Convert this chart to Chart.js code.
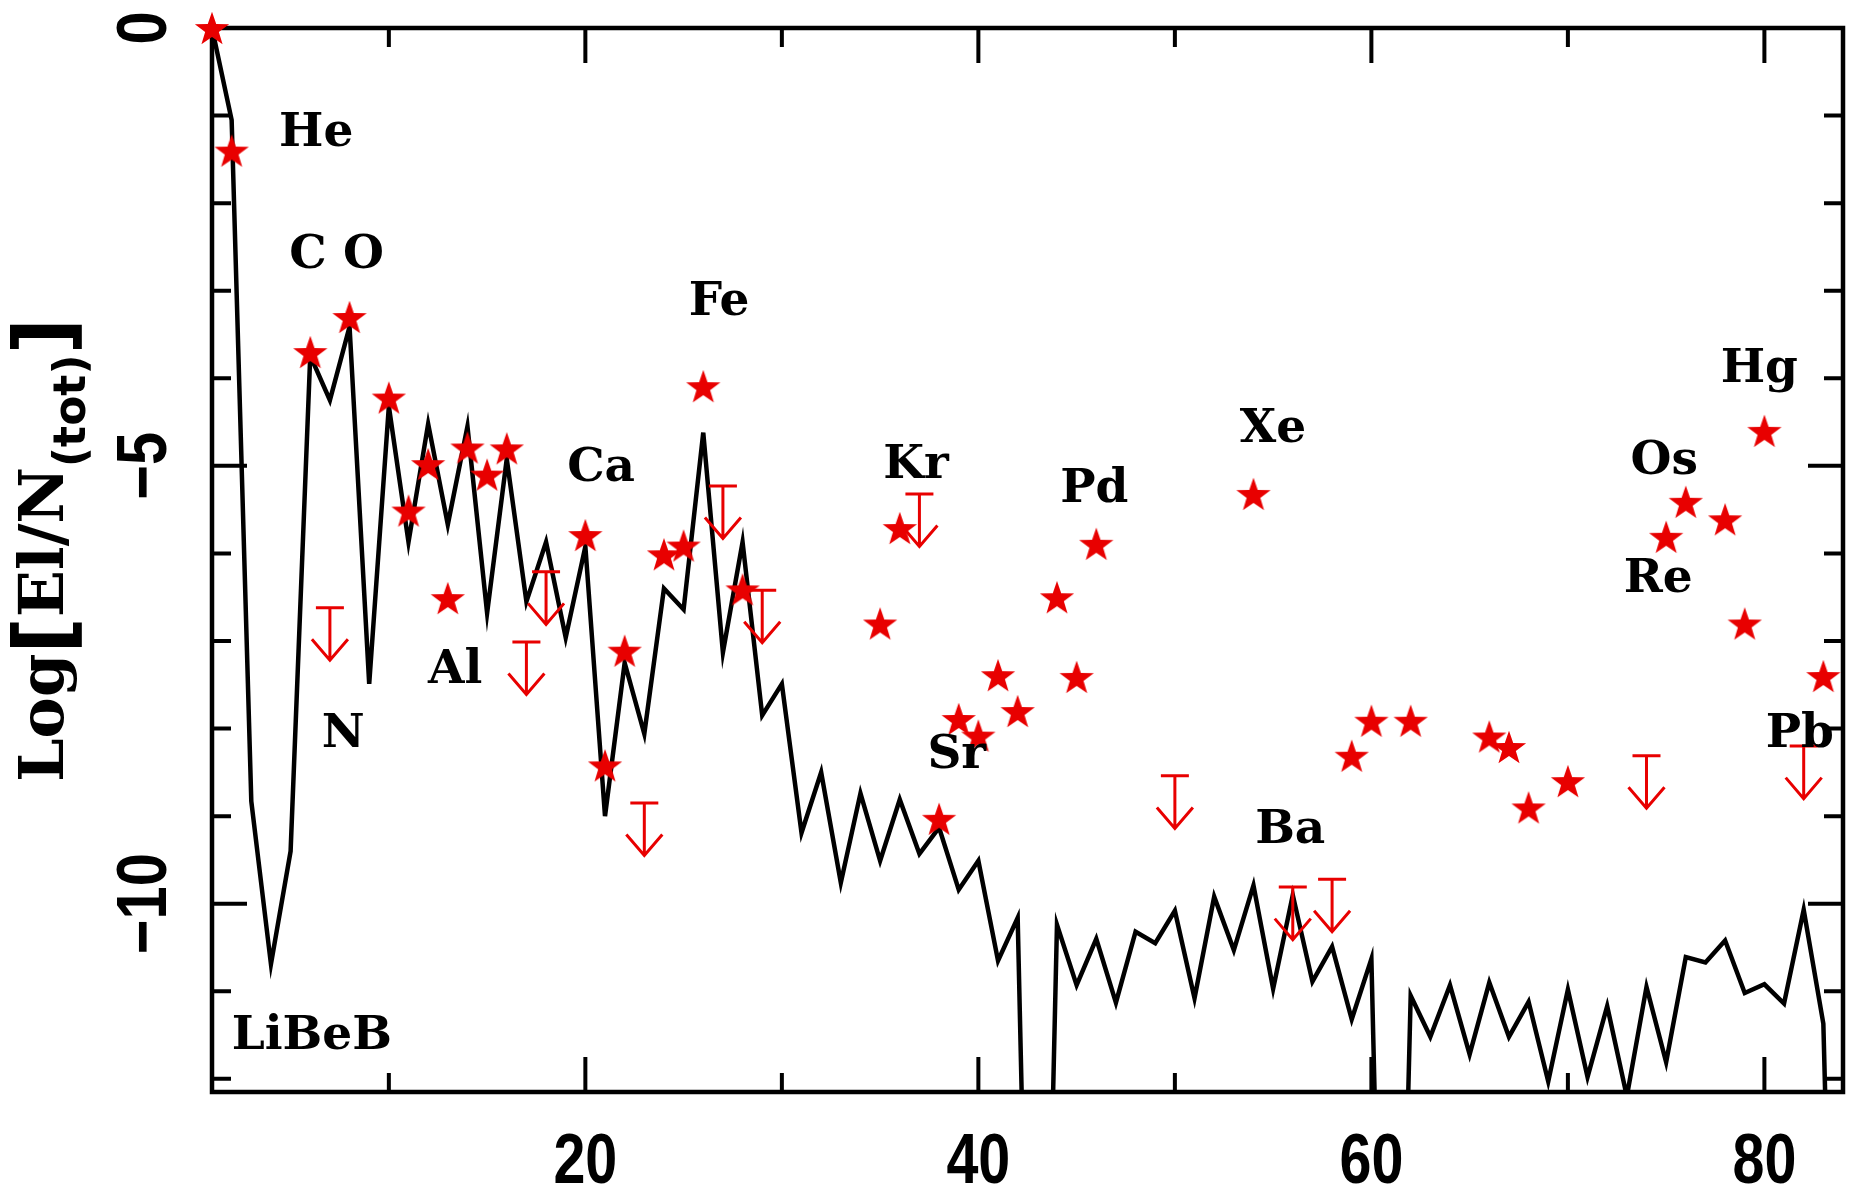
<!DOCTYPE html>
<html>
<head>
<meta charset="utf-8">
<script src="https://cdn.jsdelivr.net/npm/chart.js@4.4.1/dist/chart.umd.min.js"></script>
<style>
  html, body { margin: 0; padding: 0; background: #fff; }
  #wrap { width: 1849px; height: 1192px; }
</style>
</head>
<body>
<div id="wrap"><canvas id="abund"></canvas></div>
<script>
// model abundances (black line), Z = 1..84; -20 means far below the plot
var modelZ = [];
for (var z = 1; z <= 84; z++) modelZ.push(z);
var modelLog = [
  0, -1.05, -8.83, -10.69, -9.4, -3.74, -4.25, -3.41, -7.49, -4.32,
  -5.87, -4.52, -5.67, -4.55, -6.68, -4.92, -6.55, -5.87, -6.96, -5.92,
  -9.0, -7.25, -8.06, -6.40, -6.64, -4.62, -7.13, -5.87, -7.85, -7.49,
  -9.19, -8.50, -9.76, -8.74, -9.51, -8.81, -9.43, -9.13, -9.84, -9.51,
  -10.65, -10.16, -20, -10.24, -10.93, -10.40, -11.13, -10.32, -10.45, -10.08,
  -11.08, -9.92, -10.53, -9.79, -10.97, -9.9, -10.89, -10.49, -11.32, -10.63,
  -20, -11.05, -11.52, -10.93, -11.72, -10.9, -11.52, -11.12, -12.03, -10.98,
  -11.98, -11.17, -12.2, -10.95, -11.81, -10.61, -10.67, -10.42, -11.02, -10.92,
  -11.14, -10.07, -11.37, -20
];

// measured abundances (red stars)
var starZ = [1, 2, 6, 8, 10, 11, 12, 13, 14, 15, 16, 20, 21, 22, 24, 25, 26, 28,
  35, 36, 38, 39, 40, 41, 42, 44, 45, 46, 54, 59, 60, 62, 66, 67, 68, 70,
  75, 76, 78, 79, 80, 83];
var starLog = [0, -1.40, -3.70, -3.30, -4.22, -5.51, -4.98, -6.51, -4.79, -5.10, -4.80,
  -5.79, -8.42, -7.11, -6.01, -5.91, -4.09, -6.41,
  -6.80, -5.71, -9.03, -7.89, -8.08, -7.39, -7.80, -6.50, -7.41, -5.89,
  -5.32, -8.31, -7.91, -7.91, -8.09, -8.21, -8.90, -8.60,
  -5.81, -5.41, -5.61, -6.80, -4.60, -7.40];

// upper limits (red arrows)
var limitZ = [7, 17, 18, 23, 27, 29, 37, 50, 56, 58, 74, 82];
var limitLog = [-6.62, -7.01, -6.21, -8.85, -5.23, -6.42, -5.32, -8.54, -9.81, -9.72, -8.31, -8.20];

// axes
var xTicks = [10, 20, 30, 40, 50, 60, 70, 80];
var xTickLabels = ["", "20", "", "40", "", "60", "", "80"];
var yTicks = [0, -1, -2, -3, -4, -5, -6, -7, -8, -9, -10, -11, -12];
var yTickLabels = ["0", "", "", "", "", "\u22125", "", "", "", "", "\u221210", "", ""];

// element names written on the plot
var labelText = ["He", "C O", "N", "Al", "LiBeB", "Ca", "Fe", "Kr", "Sr", "Pd",
  "Xe", "Ba", "Hg", "Os", "Re", "Pb"];
var labelZ = [6.3, 7.34, 7.68, 13.37, 6.08, 20.8, 26.8, 36.83, 38.9, 45.9,
  54.99, 55.87, 79.74, 74.9, 74.6, 81.8];
var labelLog = [-1.15, -2.55, -8.02, -7.29, -11.46, -4.98, -3.08, -4.94, -8.26, -5.22,
  -4.53, -9.11, -3.85, -4.90, -6.25, -8.02];

var RED = "rgb(232,0,0)";
var arrowDrop = 0.6;

function pts(xs, ys) {
  return xs.map(function (x, i) { return { x: x, y: ys[i] }; });
}

// filled five-pointed star for the point style
function makeStar(R) {
  var c = document.createElement("canvas");
  c.width = Math.ceil(2 * R + 2);
  c.height = Math.ceil(2 * R + 2);
  var g = c.getContext("2d");
  var cx = c.width / 2, cy = c.height / 2 + R * 0.1;
  g.beginPath();
  for (var k = 0; k < 10; k++) {
    var r = k % 2 === 0 ? R : R * 0.4;
    var a = -Math.PI / 2 + k * Math.PI / 5;
    var px = cx + r * Math.cos(a), py = cy + r * Math.sin(a);
    if (k === 0) g.moveTo(px, py); else g.lineTo(px, py);
  }
  g.closePath();
  g.fillStyle = RED;
  g.fill();
  return c;
}
var starImg = makeStar(18);

var framePlugin = {
  id: "frame",
  beforeDatasetsDraw: function (chart) {
    var ctx = chart.ctx, a = chart.chartArea;
    var xs = chart.scales.x, ys = chart.scales.y;
    ctx.save();
    ctx.strokeStyle = "#000";
    ctx.lineWidth = 4;
    xTicks.forEach(function (v, i) {
      var px = xs.getPixelForValue(v);
      var len = xTickLabels[i] ? 35 : 19;
      ctx.beginPath();
      ctx.moveTo(px, a.bottom); ctx.lineTo(px, a.bottom - len);
      ctx.moveTo(px, a.top); ctx.lineTo(px, a.top + len);
      ctx.stroke();
    });
    yTicks.forEach(function (v, i) {
      var py = ys.getPixelForValue(v);
      var len = yTickLabels[i] ? 35 : 19;
      ctx.beginPath();
      ctx.moveTo(a.left, py); ctx.lineTo(a.left + len, py);
      ctx.moveTo(a.right, py); ctx.lineTo(a.right - len, py);
      ctx.stroke();
    });
    ctx.lineWidth = 4.5;
    ctx.strokeRect(a.left, a.top, a.right - a.left, a.bottom - a.top);

    // tick labels, narrow bold digits
    ctx.fillStyle = "#000";
    ctx.font = "bold 70px 'Liberation Sans', Arial, sans-serif";
    ctx.textAlign = "center";
    ctx.textBaseline = "alphabetic";
    xTicks.forEach(function (v, i) {
      if (!xTickLabels[i]) return;
      ctx.save();
      ctx.translate(xs.getPixelForValue(v), 1158 + 25);
      ctx.scale(0.82, 1);
      ctx.fillText(xTickLabels[i], 0, 0);
      ctx.restore();
    });
    yTicks.forEach(function (v, i) {
      if (!yTickLabels[i]) return;
      ctx.save();
      ctx.translate(141 + 25, ys.getPixelForValue(v));
      ctx.rotate(-Math.PI / 2);
      ctx.scale(0.85, 1);
      ctx.fillText(yTickLabels[i], 0, 0);
      ctx.restore();
    });
    ctx.restore();
  }
};

var limitPlugin = {
  id: "limits",
  afterDatasetsDraw: function (chart) {
    var ctx = chart.ctx, ys = chart.scales.y;
    var meta = chart.getDatasetMeta(2);
    ctx.save();
    ctx.strokeStyle = RED;
    ctx.lineWidth = 3;
    meta.data.forEach(function (el, i) {
      var x = el.x, y = el.y;
      var yEnd = ys.getPixelForValue(limitLog[i] - arrowDrop);
      ctx.beginPath();
      ctx.moveTo(x - 14, y); ctx.lineTo(x + 14, y);
      ctx.moveTo(x, y); ctx.lineTo(x, yEnd);
      ctx.moveTo(x - 18, yEnd - 21); ctx.lineTo(x, yEnd); ctx.lineTo(x + 18, yEnd - 21);
      ctx.stroke();
    });
    ctx.restore();
  }
};

var textPlugin = {
  id: "texts",
  afterDraw: function (chart) {
    var ctx = chart.ctx, xs = chart.scales.x, ys = chart.scales.y;
    ctx.save();
    ctx.fillStyle = "#000";
    ctx.font = "bold 47px 'DejaVu Serif', serif";
    ctx.textAlign = "center";
    ctx.textBaseline = "alphabetic";
    labelText.forEach(function (t, i) {
      ctx.fillText(t, xs.getPixelForValue(labelZ[i]), ys.getPixelForValue(labelLog[i]) + 17);
    });

    // y axis title: Log[El/N(tot)]
    ctx.translate(63, 782);
    ctx.rotate(-Math.PI / 2);
    ctx.textAlign = "left";
    var x = 0;
    function put(s, font, dy) {
      ctx.font = font;
      ctx.fillText(s, x, dy);
      x += ctx.measureText(s).width;
    }
    var main = "bold 62px 'DejaVu Serif', serif";
    var big = "bold 80px 'DejaVu Sans', sans-serif";
    put("Log", main, 0);
    put("[", big, 8);
    put("El/N", main, 0);
    put("(tot)", "bold 44px 'DejaVu Sans', sans-serif", 22);
    put("]", big, 8);
    ctx.restore();
  }
};

new Chart(document.getElementById("abund"), {
  type: "scatter",
  data: {
    datasets: [
      { type: "line", data: pts(modelZ, modelLog), borderColor: "#000", borderWidth: 4.5,
        pointRadius: 0, tension: 0, fill: false, order: 3 },
      { data: pts(starZ, starLog), pointStyle: starImg, pointRadius: 18,
        clip: false, order: 1 },
      { data: pts(limitZ, limitLog), pointRadius: 0, pointHoverRadius: 0, order: 2 }
    ]
  },
  options: {
    responsive: true,
    maintainAspectRatio: false,
    animation: false,
    events: [],
    layout: { autoPadding: false, padding: { top: 28, right: 6, left: 0, bottom: 0 } },
    plugins: { legend: { display: false }, tooltip: { enabled: false } },
    scales: {
      x: { type: "linear", min: 1, max: 84,
        grid: { display: false }, border: { display: false }, ticks: { display: false },
        afterFit: function (s) { s.height = 100; } },
      y: { min: -12.15, max: 0,
        grid: { display: false }, border: { display: false }, ticks: { display: false },
        afterFit: function (s) { s.width = 212; } }
    }
  },
  plugins: [framePlugin, limitPlugin, textPlugin]
});
</script>
</body>
</html>
